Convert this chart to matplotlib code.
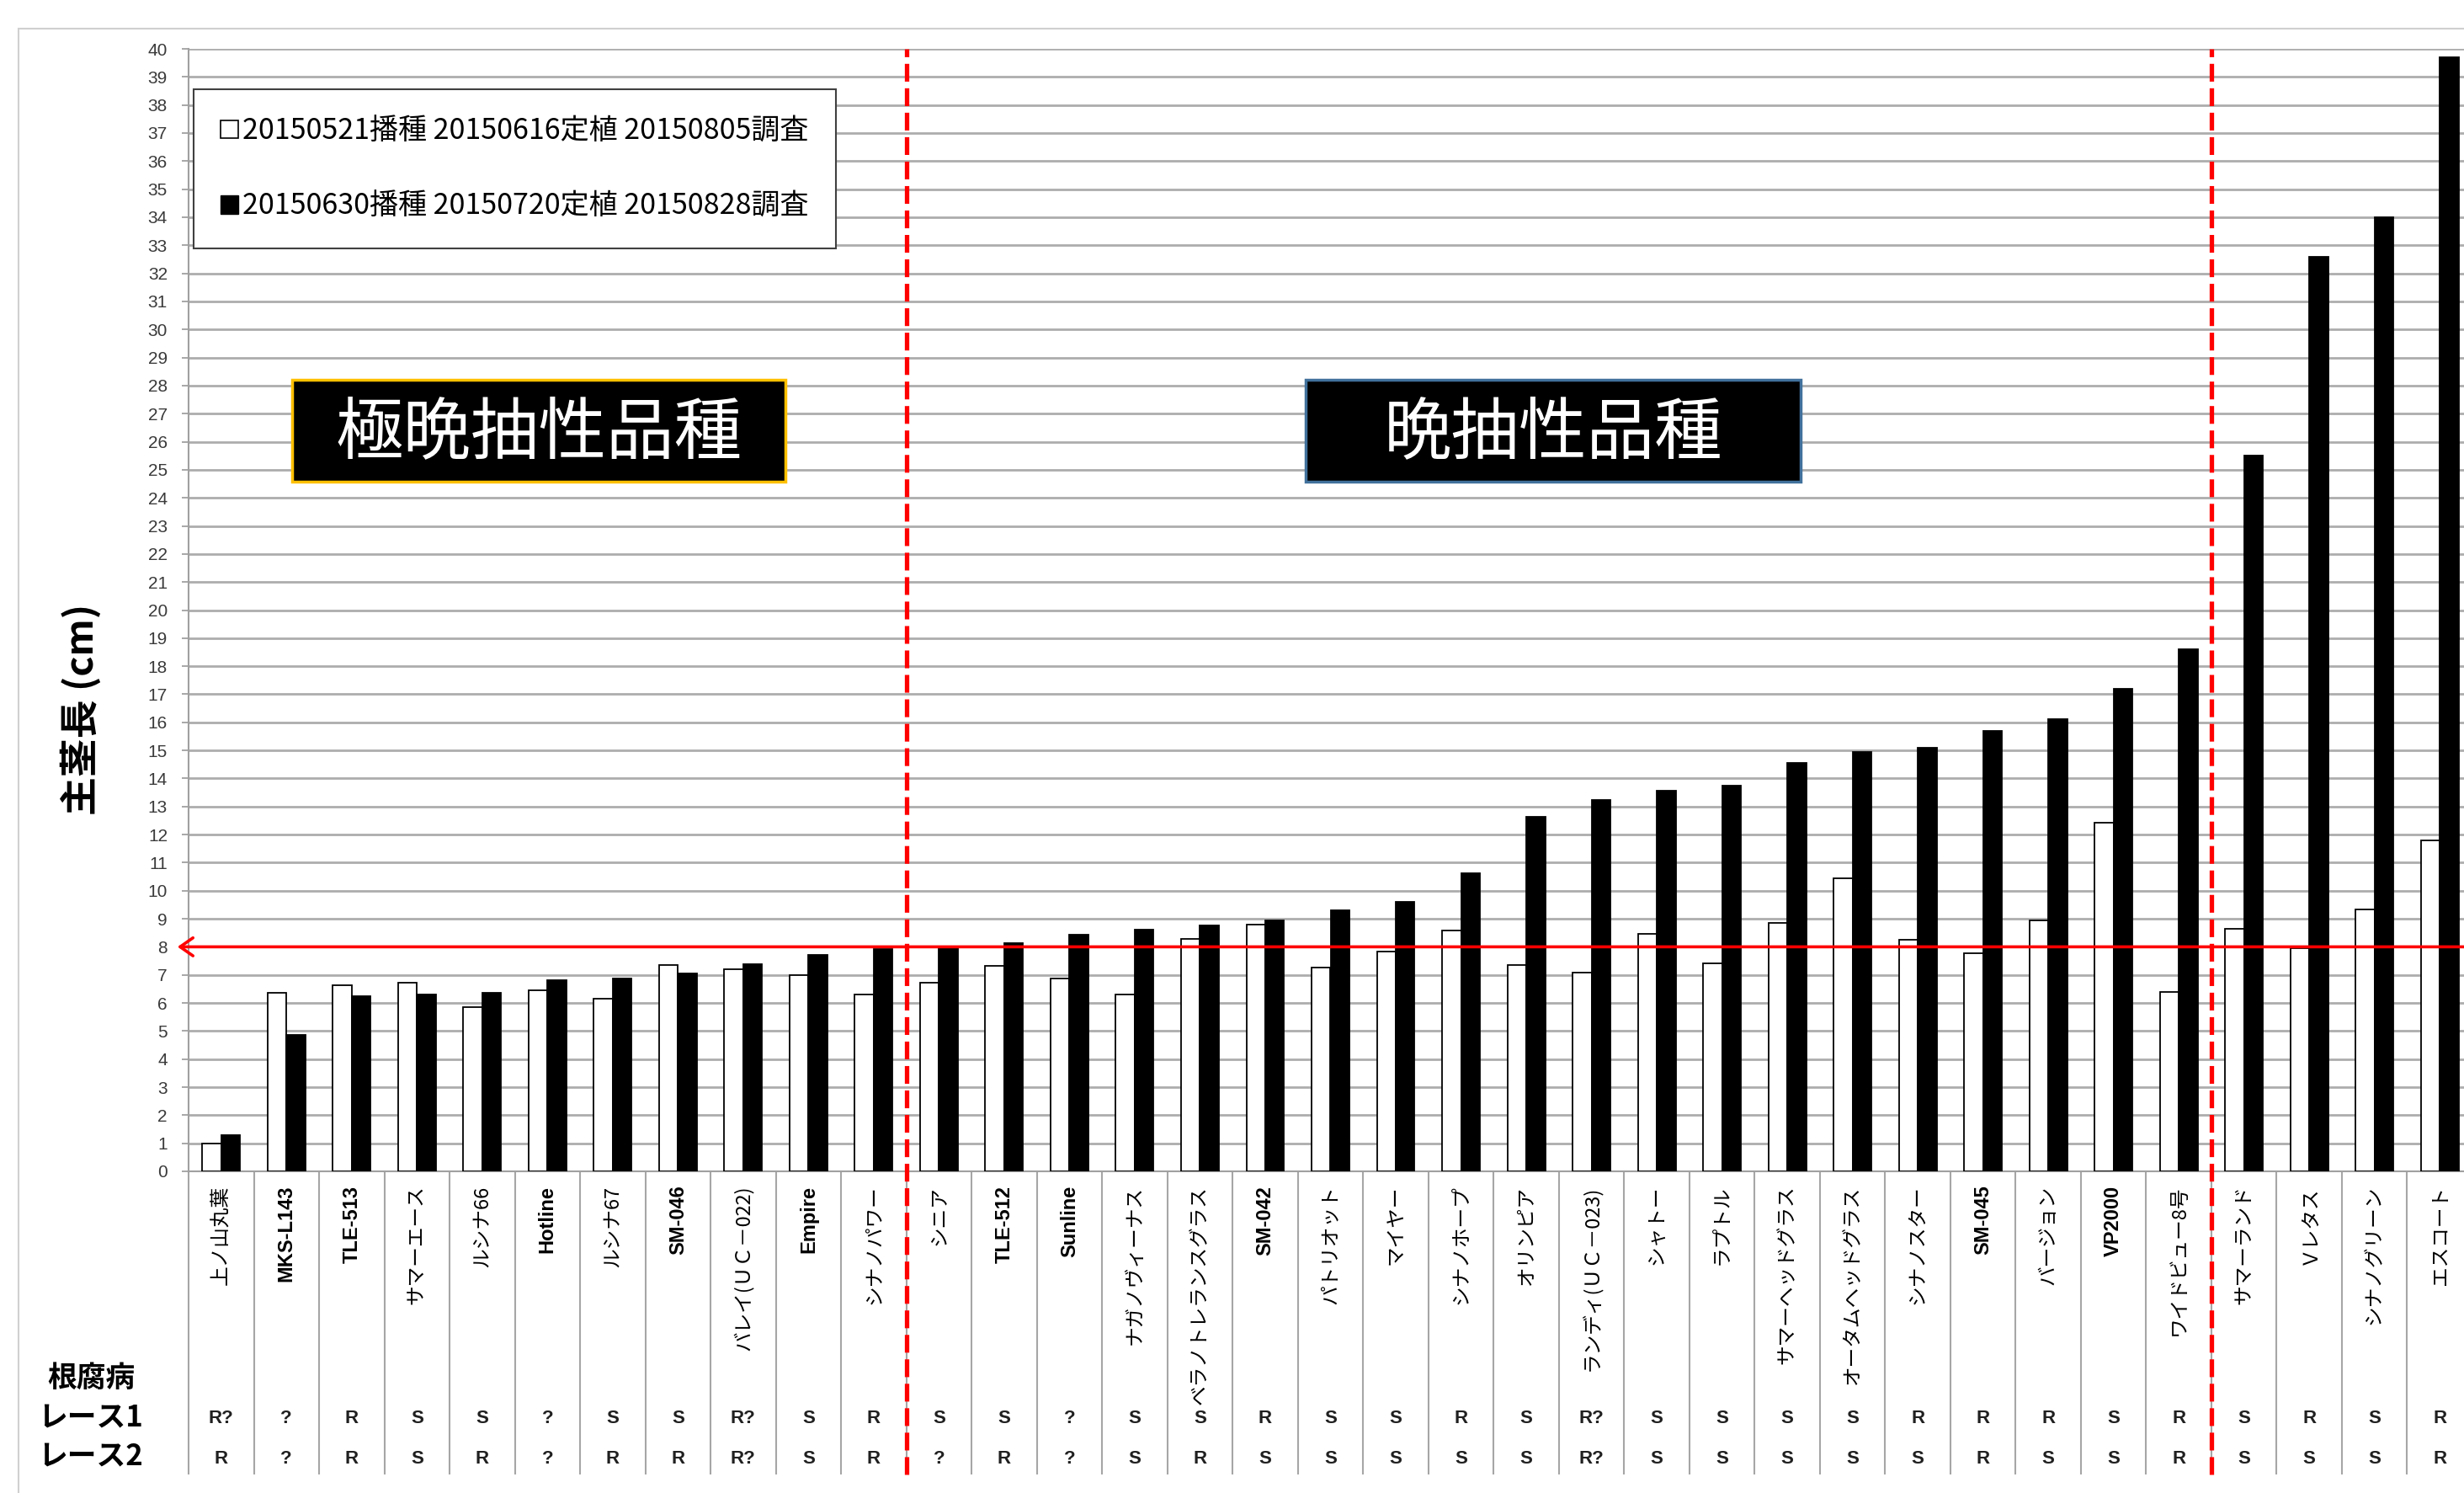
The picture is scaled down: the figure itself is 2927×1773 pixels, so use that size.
import matplotlib
matplotlib.use("Agg")
import matplotlib.pyplot as plt
from matplotlib.patches import Patch, Rectangle
import numpy as np

plt.rcParams['font.family'] = ['Noto Sans CJK JP', 'DejaVu Sans']

varieties = ['上ノ山丸葉', 'MKS-L143', 'TLE-513', 'サマーエース', 'ルシナ66', 'Hotline',
             'ルシナ67', 'SM-046', 'バレイ(ＵＣ－022)', 'Empire', 'シナノパワー',
             'シニア', 'TLE-512', 'Sunline', 'ナガノヴィーナス', 'ベラノトレランスグラス',
             'SM-042', 'パトリオット', 'マイヤー', 'シナノホープ', 'オリンピア',
             'ランディ(ＵＣ－023)', 'シャトー', 'ラプトル', 'サマーヘッドグラス',
             'オータムヘッドグラス', 'シナノスター', 'SM-045', 'バージョン', 'VP2000',
             'ワイドビュー8号', 'サマーランド', 'Ｖレタス', 'シナノグリーン', 'エスコート']

# 主茎長 (cm)
sow_0521 = [1.0, 6.35, 6.62, 6.72, 5.85, 6.45, 6.15, 7.35, 7.2, 7.0, 6.3,
            6.72, 7.33, 6.86, 6.3, 8.28, 8.79, 7.26, 7.82, 8.58, 7.36, 7.08,
            8.45, 7.42, 8.85, 10.45, 8.26, 7.78, 8.95, 12.42, 6.4, 8.65, 7.95,
            9.32, 11.8]
sow_0630 = [1.3, 4.85, 6.25, 6.3, 6.35, 6.82, 6.87, 7.05, 7.37, 7.7, 7.93,
            7.98, 8.14, 8.42, 8.6, 8.77, 8.95, 9.3, 9.6, 10.63, 12.62, 13.22,
            13.55, 13.75, 14.55, 14.93, 15.1, 15.68, 16.1, 17.2, 18.6, 25.5,
            32.6, 34.0, 39.7]

race1 = ['R?', '?', 'R', 'S', 'S', '?', 'S', 'S', 'R?', 'S', 'R',
         'S', 'S', '?', 'S', 'S', 'R', 'S', 'S', 'R', 'S', 'R?', 'S', 'S',
         'S', 'S', 'R', 'R', 'R', 'S', 'R', 'S', 'R', 'S', 'R']
race2 = ['R', '?', 'R', 'S', 'R', '?', 'R', 'R', 'R?', 'S', 'R',
         '?', 'R', '?', 'S', 'R', 'S', 'S', 'S', 'S', 'S', 'R?', 'S', 'S',
         'S', 'S', 'S', 'R', 'S', 'S', 'R', 'S', 'S', 'S', 'R']
row_labels = ['根腐病', 'レース1', 'レース2']

legend_labels = ['20150521播種 20150616定植 20150805調査',
                 '20150630播種 20150720定植 20150828調査']
group_labels = ['極晩抽性品種', '晩抽性品種']
group_breaks = [10.5, 30.5]
threshold = 8

W, H = 2927, 1773


def fx(px):
    return px / W


def fy(py):
    return 1 - py / H


fig = plt.figure(figsize=(W / 100, H / 100), dpi=100)
# plot area: left edge 224px, y=0 at 1391px, y=40 at 58px (right side runs off the picture)
ax = fig.add_axes([fx(224), fy(1391), (2937 - 224) / W, (1391 - 58) / H])

n = len(varieties)
x = np.arange(n)
bw = 0.29
ax.bar(x - bw / 2, sow_0521, bw, color='white', edgecolor='black', linewidth=1.3, zorder=3)
ax.bar(x + bw / 2, sow_0630, bw, color='black', edgecolor='black', linewidth=1.3, zorder=3)

ax.set_xlim(-0.5, n - 0.5)
ax.set_ylim(0, 40)
ax.set_yticks(range(0, 41))
ax.yaxis.grid(True, color='#ADADAD', linewidth=2.0)
ax.set_axisbelow(True)
ax.tick_params(axis='y', length=6, width=1.3, color='#A0A0A0', pad=12,
               labelsize=15, labelcolor='#3A3A3A')
plt.setp(ax.get_yticklabels(), family='Liberation Sans')

ax.set_xticks(x)
ax.set_xticklabels(varieties, rotation=90, fontsize=17)
ax.tick_params(axis='x', length=0, pad=12)
for lab in ax.get_xticklabels():
    if lab.get_text().isascii():
        lab.set_family('Liberation Sans')
        lab.set_fontweight('bold')
        lab.set_fontsize(17)

for s in ['top', 'right']:
    ax.spines[s].set_visible(False)
for s in ['left', 'bottom']:
    ax.spines[s].set_color('#A0A0A0')
    ax.spines[s].set_linewidth(1.5)

# category separators running down through the label table
ax.vlines(np.arange(n + 1) - 0.5, -10.8, 0, colors='#A6A6A6', linewidth=1.5, clip_on=False)

# group boundaries
ax.vlines(group_breaks, -10.8, 40, colors='red', linewidth=3.8,
          linestyles=[(0, (4.0, 1.5))], clip_on=False, zorder=6)

# 8 cm reference line
ax.annotate('', xy=(-0.67, threshold), xytext=(n + 0.5, threshold),
            arrowprops=dict(arrowstyle='->, head_length=0.5, head_width=0.35',
                            color='red', lw=2.6, mutation_scale=22,
                            shrinkA=0, shrinkB=0),
            annotation_clip=False, zorder=7)

# group boxes
group_spans = [(1.09, 8.65), (16.62, 24.2)]
box_edges = ['#FFC000', '#41719C']
for (a, b), label, ec in zip(group_spans, group_labels, box_edges):
    ax.add_patch(Rectangle((a, 24.58), b - a, 3.63, facecolor='black',
                           edgecolor=ec, linewidth=2.5, zorder=8))
    ax.text((a + b) / 2, 26.3, label, color='white', fontsize=58,
            ha='center', va='center', zorder=9)

# legend
handles = [Patch(facecolor='white', edgecolor='black', linewidth=1.2),
           Patch(facecolor='black', edgecolor='black')]
leg = ax.legend(handles, legend_labels, loc='upper left',
                bbox_to_anchor=(fx(230), fy(106)), bbox_transform=fig.transFigure,
                fontsize=24.5, fancybox=False, framealpha=1, edgecolor='#404040',
                borderpad=0.95, labelspacing=1.6, handlelength=0.6,
                handleheight=0.6, handletextpad=0.15, borderaxespad=0)
leg.get_frame().set_linewidth(1.5)
leg.set_zorder(10)

# root rot race table
for i, (r1, r2) in enumerate(zip(race1, race2)):
    ax.text(i, -8.8, r1, ha='center', va='center', fontsize=16,
            fontweight='bold', family='Liberation Sans', color='#202020')
    ax.text(i, -10.25, r2, ha='center', va='center', fontsize=16,
            fontweight='bold', family='Liberation Sans', color='#202020')

for label, py in zip(row_labels, [1636, 1683, 1729]):
    fig.text(fx(108), fy(py), label, ha='center', va='center',
             fontsize=25, fontweight='bold')

fig.text(fx(97), fy(842), '主茎長 (cm)', rotation=90, ha='center', va='center',
         fontsize=33, fontweight='bold')

# chart area border
fig.add_artist(Rectangle((fx(22), fy(1850)), 1.1, fy(34) - fy(1850),
                         transform=fig.transFigure, fill=False,
                         edgecolor='#D0D0D0', linewidth=1.5))

fig.savefig('out.png', dpi=100)
